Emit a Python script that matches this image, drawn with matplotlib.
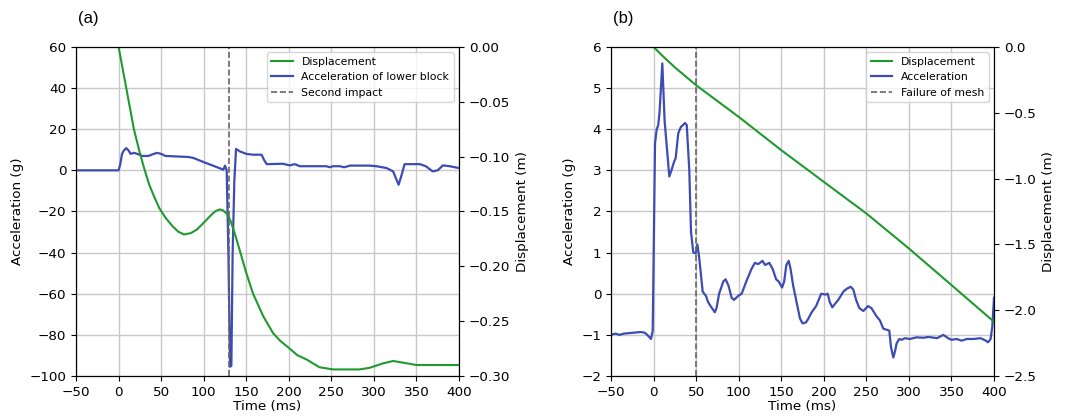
import numpy as np
import matplotlib.pyplot as plt

# (a) acceleration of lower block (g)
t_acc_a = [-50, 0, 2, 4, 6, 9, 12, 14, 18, 22, 28, 35, 40, 45, 50, 55, 65, 82, 88, 103,
           119, 123, 125, 127, 129, 131, 132.5, 134, 136, 138, 142.5, 150, 158, 168, 171,
           174, 193, 201, 207, 213, 244, 248, 252, 260, 265, 272, 295, 303, 315, 322.5,
           326, 329, 332, 336, 346, 354, 361, 369, 375, 381, 389, 400]
acc_a = [0, 0, 3, 8, 9.5, 10.8, 9.5, 8, 8.5, 8, 7, 7, 7.8, 8.5, 8, 7, 6.8, 6.5, 6, 3.5,
         1, 0.3, 2.3, 0, -40, -95.5, -95, -40, -5, 10.4, 9.2, 8, 7.6, 7.6, 5,
         3, 3.2, 2.4, 3, 2, 2, 1.5, 2, 2, 1.5, 2.3, 2.3, 2, 1.1, -0.5,
         -4, -7, -3, 3, 3, 3, 2, -0.5, 0, 2.4, 2, 1.1]

# (a) displacement (m)
t_disp_a = [0, 9, 18, 24, 30, 36, 42, 48, 55, 63, 70, 77, 85, 92, 100, 108, 114, 119,
            123, 128, 132, 136, 142, 150, 158, 170, 181.6, 190, 201, 210, 221, 236, 252,
            283, 295, 311, 322.5, 334, 350, 400]
disp_a = [0, -0.0375, -0.075, -0.0938, -0.1106, -0.1256, -0.1369, -0.1472, -0.1556,
          -0.1631, -0.1684, -0.171, -0.1697, -0.1665, -0.1603, -0.1538, -0.1496, -0.1481,
          -0.1491, -0.1528, -0.1594, -0.1688, -0.1845, -0.206, -0.225, -0.2456, -0.261,
          -0.268, -0.275, -0.281, -0.285, -0.292, -0.294, -0.294, -0.2925, -0.2884,
          -0.2863, -0.2878, -0.290, -0.290]

# (b) acceleration (g)
t_acc_b = [-50, -45, -40, -35, -25, -15, -10, -5, -3, -1, 1.7, 3.7, 5.5, 7, 10.3, 13,
           18.5, 21, 24, 26, 29, 32, 37, 39, 42, 44, 46.7, 49.5, 51.5, 53.5, 55.5, 57.7,
           61.5, 64, 67, 72, 74, 77, 82, 84.7, 88, 91.8, 94.5, 99.6, 103.5, 109, 115,
           119, 123, 128, 131, 136, 140, 144, 147, 151, 153.5, 156, 158.8, 161, 164,
           168, 172, 175, 179, 182, 185.8, 191, 195, 197, 202, 204.6, 207, 210, 213,
           217, 223, 227, 231.6, 234.7, 238, 241.8, 246.5, 252, 256, 262, 266, 270,
           274.7, 277, 279, 281.7, 283.7, 285.7, 288.8, 291.5, 295.4, 301, 309, 317,
           323, 333, 340.5, 346, 350, 356, 362, 368, 376, 384, 389.5, 393, 396, 398, 400]
acc_b = [-1.0, -0.97, -1.0, -0.97, -0.95, -0.93, -0.95, -1.05, -1.1, -0.9, 3.65, 4.0, 4.1,
         4.4, 5.6, 4.2, 2.85, 3.0, 3.2, 3.3, 3.9, 4.05, 4.15, 4.1, 3.0, 1.5, 1.0, 0.98,
         1.2, 0.9, 0.5, 0.05, -0.05, -0.2, -0.3, -0.45, -0.35, 0.0, 0.3, 0.35, 0.2, -0.1,
         -0.15, -0.05, 0.0, 0.3, 0.6, 0.75, 0.72, 0.8, 0.7, 0.75, 0.6, 0.35, 0.3, 0.15,
         0.3, 0.7, 0.8, 0.6, 0.2, -0.2, -0.6, -0.72, -0.7, -0.6, -0.45, -0.3, -0.1, 0.0,
         -0.02, 0.0, -0.2, -0.33, -0.25, -0.15, 0.05, 0.12, 0.17, 0.1, -0.15, -0.35,
         -0.42, -0.3, -0.35, -0.55, -0.65, -0.85, -0.88, -0.9, -1.3, -1.55, -1.4, -1.2,
         -1.1, -1.12, -1.08, -1.1, -1.06, -1.07, -1.05, -1.08, -1.0, -1.08, -1.12, -1.1,
         -1.14, -1.1, -1.1, -1.08, -1.13, -1.18, -1.1, -0.8, -0.1]

# (b) displacement (m)
t_disp_b = [-50, 0, 10, 25, 50, 100, 150, 200, 250, 300, 350, 400]
disp_b = [0, 0, -0.065, -0.155, -0.291, -0.531, -0.784, -1.025, -1.265, -1.531, -1.809, -2.088]

green = '#1f9a2f'
blue = '#3c4cb2'

plt.rcParams['font.size'] = 9.7
fig = plt.figure(figsize=(10.71, 4.19), dpi=100)

panels = [
    ([0.071, 0.1026, 0.3576, 0.7854], t_acc_a, acc_a, t_disp_a, disp_a,
     (-100, 60), (-0.30, 0.0), 130, 'Acceleration of lower block', 'Second impact', '(a)'),
    ([0.5705, 0.1026, 0.3576, 0.7854], t_acc_b, acc_b, t_disp_b, disp_b,
     (-2, 6), (-2.5, 0.0), 50, 'Acceleration', 'Failure of mesh', '(b)'),
]

for rect, ta, acc, td, disp, ylim, ylim2, tv, acc_name, v_name, tag in panels:
    ax = fig.add_axes(rect)
    ax2 = ax.twinx()
    l1, = ax2.plot(td, disp, color=green, lw=1.5, label='Displacement')
    l2, = ax.plot(ta, acc, color=blue, lw=1.6, label=acc_name)
    l3 = ax.axvline(tv, color='#666666', ls='--', lw=1.2, label=v_name)
    ax.set_xlim(-50, 400)
    ax.set_ylim(*ylim)
    ax2.set_ylim(*ylim2)
    ax.set_xticks(np.arange(-50, 401, 50))
    ax.grid(True, color='#c8c8c8', lw=1.0)
    ax.set_axisbelow(True)
    ax.set_xlabel('Time (ms)', labelpad=1)
    ax.set_ylabel('Acceleration (g)')
    ax2.set_ylabel('Displacement (m)')
    ax2.legend(handles=[l1, l2, l3], loc='upper right', fontsize=7.8, framealpha=0.8)
    fig.text(rect[0] + 0.002, 0.955, tag, fontsize=12, family='Liberation Sans',
             ha='left', va='center')

fig.savefig('out.png', dpi=100)
